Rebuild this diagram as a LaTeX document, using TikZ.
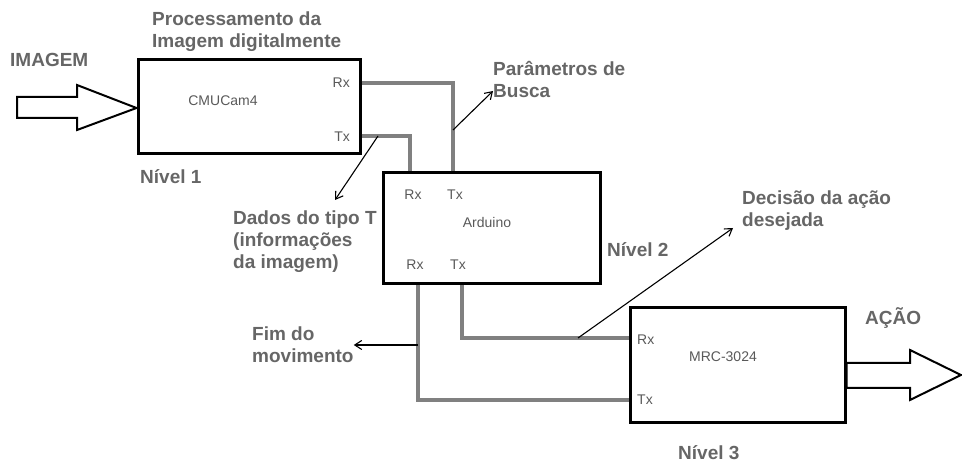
\documentclass[tikz,border=0pt]{standalone}
\usepackage{fontspec}
\setmainfont{Liberation Sans}
\usetikzlibrary{arrows.meta, positioning}

\begin{document}
\begin{tikzpicture}[
    x=1pt, y=-1pt,
    block/.style = {
        draw=black,
        line width=3pt,
        inner sep=0pt
    },
    wire/.style = {draw=black!50, line width=3.2pt},
    pointer/.style = {->, >={Straight Barb[length=7pt, width=9pt]}, line width=1.1pt},
    bigarrow/.style = {draw=black, line width=2pt, fill=white, line join=miter},
    title/.style = {anchor=west, align=left, text=black!60,
        font=\fontsize{19}{22}\selectfont\bfseries, inner sep=0pt},
    pin/.style = {text=black!65, font=\fontsize{14}{16}\selectfont, inner sep=0pt}
]

\useasboundingbox (0,0) rectangle (962,462);

% blocos
\node [block, minimum width=222pt, minimum height=94pt] (cam) at (249,107) {};
\node [block, minimum width=217pt, minimum height=111pt] (ard) at (491.5,228.5) {};
\node [block, minimum width=215pt, minimum height=115pt] (mrc) at (737.5,365.5) {};

\node [pin] (camname) at (223,101) {CMUCam4};
\node [pin, anchor=east] (camrxl) at (350,83) {Rx};
\node [pin, anchor=east] (camtxl) at (350,137) {Tx};

\node [pin] (ardname) at (487,222) {Arduino};
\node [pin] (ardrxl) at (413,195) {Rx};
\node [pin] (ardtxl) at (455,195) {Tx};
\node [pin] (ardrxbl) at (415,265) {Rx};
\node [pin] (ardtxbl) at (458,265) {Tx};

\node [pin] (mrcname) at (723,357) {MRC-3024};
\node [pin, anchor=west] (mrcrxl) at (637,340) {Rx};
\node [pin, anchor=west] (mrctxl) at (637,400) {Tx};

% pinos
\coordinate (camrx) at (cam.east |- 0,83);
\coordinate (camtx) at (cam.east |- 0,136);
\coordinate (ardrx) at (410,0 |- ard.north);
\coordinate (ardtx) at (453,0 |- ard.north);
\coordinate (ardrxb) at (418,0 |- ard.south);
\coordinate (ardtxb) at (462,0 |- ard.south);
\coordinate (mrcrx) at (mrc.west |- 0,338);
\coordinate (mrctx) at (mrc.west |- 0,400);

\draw [wire] (camrx) -| (ardtx);
\draw [wire] (camtx) -| (ardrx);
\draw [wire] (ardtxb) |- (mrcrx);
\draw [wire] (ardrxb) |- (mrctx);

% textos
\node [title] (imagem) at (10,60) {IMAGEM};
\node [title] (proc) at (152,32) {Processamento da\\Imagem digitalmente};
\node [title] (nivel1) at (140,177) {Nível 1};
\node [title] (param) at (493,80) {Parâmetros de\\Busca};
\node [title] (dados) at (233,242) {Dados do tipo T\\(informações\\da imagem)};
\node [title] (nivel2) at (607,250) {Nível 2};
\node [title] (decisao) at (742,211) {Decisão da ação\\desejada};
\node [title] (fim) at (252,345) {Fim do\\movimento};
\node [title] (acao) at (865,318) {AÇÃO};
\node [title] (nivel3) at (678,453) {Nível 3};

% setas finas
\coordinate (tapdados) at (378,136);
\coordinate (tapparam) at (453,130);
\coordinate (tapdecisao) at (578,338);
\coordinate (tapfim) at (418,345);

\draw [pointer] (tapdados) -- (335,200);
\draw [pointer] (tapparam) -- (param.west |- 0,91);
\draw [pointer] (tapdecisao) -- (733,228);
\draw [pointer] (tapfim) -- (fim.east);

% setas de entrada e saida
\draw [bigarrow] (17,97) -- (77,97) -- (77,85) -- (cam.west |- 0,108)
    -- (77,130) -- (77,118) -- (17,118) -- cycle;
\draw [bigarrow] (mrc.east |- 0,363) -- (910,363) -- (910,350) -- (961,375)
    -- (910,400) -- (910,388) -- (mrc.east |- 0,388) -- cycle;

\end{tikzpicture}
\end{document}
